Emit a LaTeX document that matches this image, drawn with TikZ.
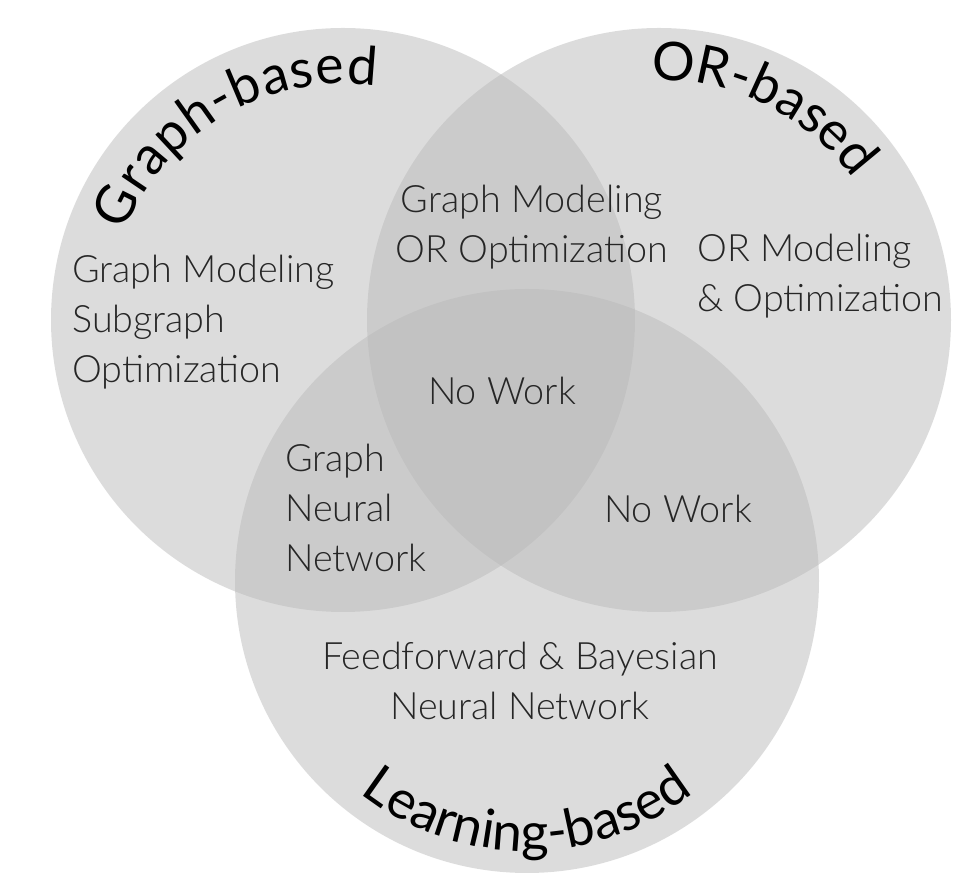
\documentclass[tikz,border=0pt]{standalone}
\usepackage{fontspec}
\setmainfont{Lato}[UprightFont={* Light}, BoldFont={*}]
\newfontfamily\labelfont{Lato}
\usepackage{tikz}
\usetikzlibrary{decorations.text}

\begin{document}
\begin{tikzpicture}[x=0.025cm, y=0.025cm,
        venn/.style={fill=black!27, fill opacity=0.5},
        area/.style={inner sep=0pt, text=black!85, font=\fontsize{26.8}{35.6}\selectfont},
        bend text/.style={decorate, decoration={text along path, text align=center,
            text={|\labelfont\fontsize{38}{40}\selectfont|#1}}},
        fit text/.style={decorate, decoration={text along path, text align=fit to path,
            text={|\labelfont\fontsize{38}{40}\selectfont|#1}}}]
        \useasboundingbox (0,0) rectangle (976,881);

        % the three sets
        \coordinate (cg) at (343,561);
        \coordinate (co) at (659,561);
        \coordinate (cl) at (527,300);
        \fill[venn] (cg) circle (292);
        \fill[venn] (co) circle (292);
        \fill[venn] (cl) circle (292);

        % set names along the rims
        \path[fit text={Graph-based}] (cg) ++(158:236) arc (158:82:236);
        \path[bend text={OR-based}] (co) ++(112:240) arc (112:16:240);
        \path[bend text={Learning-based}] (cl) ++(210:270) arc (210:330:270);

        % contents of the regions (base = last line)
        \node[area, anchor=base west, align=left] (graphonly) at (72,498) {Graph Modeling\\Subgraph\\Optimization};
        \node[area, anchor=base, align=center] (graphor) at (532,618) {Graph Modeling\\OR Optimization};
        \node[area, anchor=base west, align=left] (oronly) at (697,569) {OR Modeling\\\& Optimization};
        \node[area, anchor=base] (allthree) at (502,476) {No Work};
        \node[area, anchor=base west, align=left] (graphlearn) at (285,309) {Graph\\Neural\\Network};
        \node[area, anchor=base] (orlearn) at (678,358) {No Work};
        \node[area, anchor=base, align=center] (learnonly) at (520,161) {Feedforward \& Bayesian\\Neural Network};
\end{tikzpicture}
\end{document}
